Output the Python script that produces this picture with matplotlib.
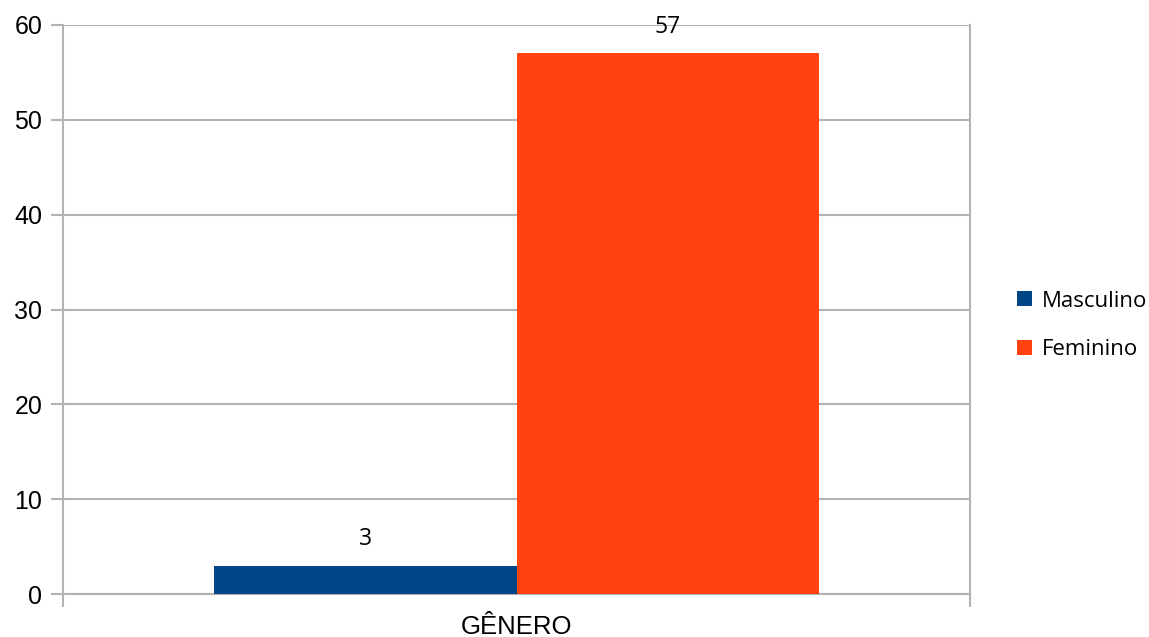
import matplotlib.pyplot as plt
import numpy as np

categories = ['GÊNERO']
series_names = ['Masculino', 'Feminino']
values = [[3], [57]]
colors = ['#004586', '#ff420e']
yticks = [0, 10, 20, 30, 40, 50, 60]

grid_col = '#b3b3b3'

fig = plt.figure(figsize=(11.49, 6.37), dpi=100)
ax = fig.add_axes([63 / 1149, 43 / 637, 907 / 1149, 569 / 637])

x = np.arange(len(categories))
w = 1 / 3
for i, (name, vals) in enumerate(zip(series_names, values)):
    pos = x + (i - 0.5) * w
    bars = ax.bar(pos, vals, width=w, color=colors[i], label=name, zorder=3)
    for b, v in zip(bars, vals):
        ax.text(b.get_x() + b.get_width() / 2, v + 2.8, str(v),
                ha='center', va='center', fontsize=16.5, family='Open Sans',
                color='#000000')

ax.set_xlim(-0.5, 0.5)
ax.set_ylim(0, 60)
ax.set_yticks(yticks)
ax.set_yticklabels([str(t) for t in yticks], fontsize=18, family='Liberation Sans')
ax.yaxis.grid(True, color=grid_col, linewidth=1.5, zorder=0)

# x axis: ticks only at the category boundaries
ax.set_xticks([-0.5, 0.5])
ax.set_xticklabels(['', ''])
ax.tick_params(axis='x', length=9, width=1.5, color=grid_col)
ax.tick_params(axis='y', length=9, width=1.5, color=grid_col, pad=6)
fig.text(516.5 / 1149, 3 / 637, categories[0], ha='center', va='baseline',
         fontsize=18.5, family='Liberation Sans')

for side in ['left', 'bottom', 'right']:
    ax.spines[side].set_color(grid_col)
    ax.spines[side].set_linewidth(1.5)
ax.spines['top'].set_visible(False)

ax.legend(loc='center left', bbox_to_anchor=(1.03, 0.472), frameon=False,
          prop={'family': 'Open Sans', 'size': 16}, handlelength=0.65,
          handleheight=0.65, handletextpad=0.45, labelspacing=1.25)

fig.savefig('out.png', dpi=100)
